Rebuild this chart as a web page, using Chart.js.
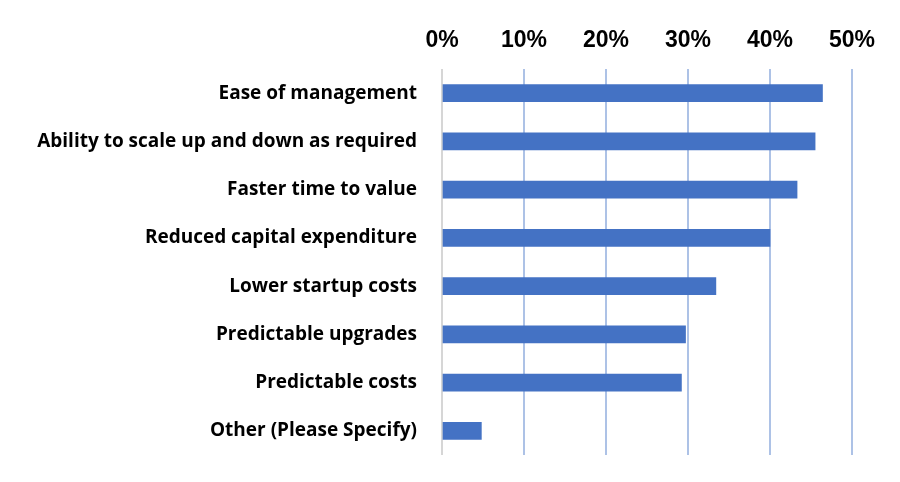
<!DOCTYPE html>
<html>
<head>
<meta charset="utf-8">
<script src="https://cdn.jsdelivr.net/npm/chart.js@4"></script>
<style>
  html, body { margin: 0; padding: 0; background: #fff; }
  #wrap { width: 900px; height: 482px; }
</style>
</head>
<body>
<div id="wrap"><canvas id="chart" width="900" height="482"></canvas></div>
<script>
// категории и значения (в процентах)
const categories = [
  'Ease of management',
  'Ability to scale up and down as required',
  'Faster time to value',
  'Reduced capital expenditure',
  'Lower startup costs',
  'Predictable upgrades',
  'Predictable costs',
  'Other (Please Specify)'
];
const shares = [46.4, 45.5, 43.3, 40.0, 33.4, 29.7, 29.2, 4.8];
const xTicks = [0, 10, 20, 30, 40, 50];

const ctx = document.getElementById('chart').getContext('2d');
new Chart(ctx, {
  type: 'bar',
  data: {
    labels: categories,
    datasets: [{
      data: shares,
      backgroundColor: '#4472c4',
      borderWidth: 0,
      barThickness: 17
    }]
  },
  options: {
    indexAxis: 'y',
    responsive: false,
    animation: false,
    layout: { padding: { left: 0, right: 48, top: 0, bottom: 27 } },
    plugins: { legend: { display: false }, tooltip: { enabled: false } },
    scales: {
      x: {
        position: 'top',
        min: 0,
        max: 50,
        afterBuildTicks: function(axis) { // ставим ровно наши деления
          axis.ticks = xTicks.map(v => ({ value: v }));
        },
        afterFit: function(axis) { axis.height = 69; },
        border: { display: false },
        grid: {
          drawTicks: false,
          lineWidth: 2,
          color: (c) => c.index === 0 ? '#d6d6d6' : '#adc2e6'
        },
        ticks: {
          padding: 15,
          color: '#000',
          font: { family: 'Liberation Sans', size: 23, weight: 'bold' },
          callback: (v) => v + '%'
        }
      },
      y: {
        afterFit: function(axis) {
          axis.width = 442;
          axis.paddingTop = 0; // иначе padding подписей съедает низ
          axis.paddingBottom = 0;
        },
        border: { display: false },
        grid: { display: false, drawTicks: false },
        ticks: {
          padding: 25,
          color: '#000',
          font: { family: 'Open Sans', size: 19, weight: 'bold' }
        }
      }
    }
  }
});
</script>
</body>
</html>
